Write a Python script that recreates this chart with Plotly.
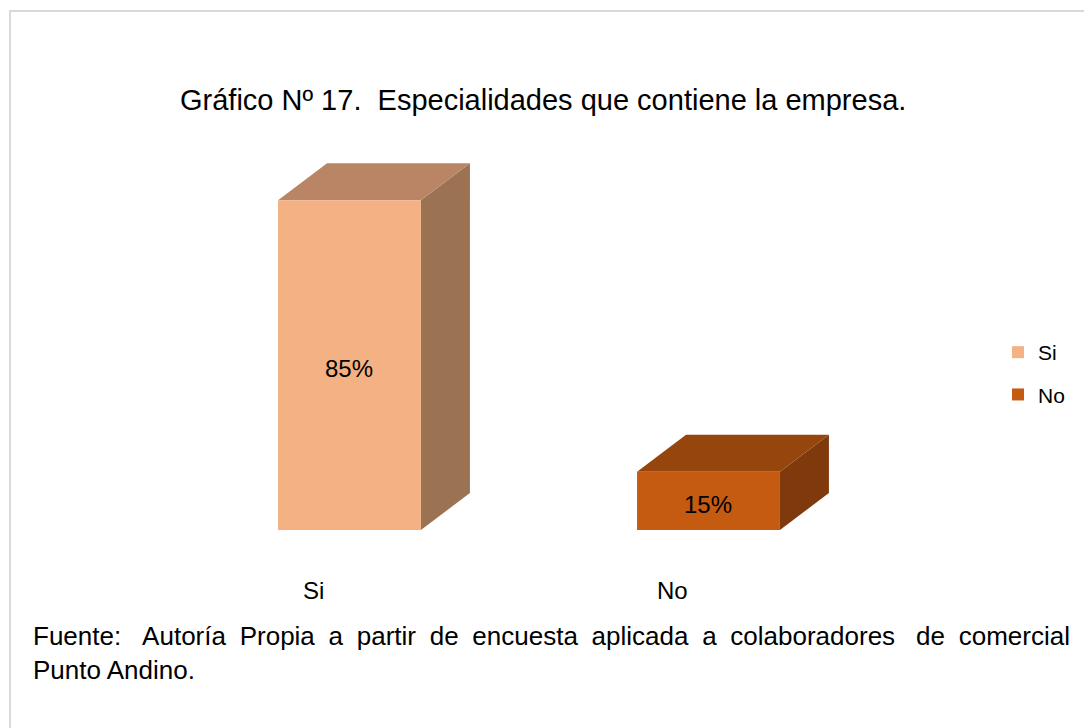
import re
import plotly.graph_objects as go

# ---- data ----
categories = ["Si", "No"]
values = [85, 15]
front_colors = ["#F4B183", "#C55A11"]
top_colors = ["#BA8564", "#96450D"]
side_colors = ["#9B7252", "#7F390C"]
title_text = "Gráfico Nº 17.  Especialidades que contiene la empresa."
footer_lines = [
    "Fuente:  Autoría Propia a partir de encuesta aplicada a colaboradores  de comercial",
    "Punto Andino.",
]

# ---- geometry (data units) ----
BAR_W = 0.398
DX = 0.1365
DY = 9.54
X_RANGE = [-0.9735, 2.046]
Y_RANGE = [-51.03, 136.6]

FONT = "Liberation Sans, Arial, sans-serif"

fig = go.Figure()

for i, (cat, v) in enumerate(zip(categories, values)):
    xl, xr = i - BAR_W / 2, i + BAR_W / 2
    fig.add_trace(go.Scatter(
        x=[xr, xr + DX, xr + DX, xr, xr], y=[0, DY, v + DY, v, 0],
        fill="toself", fillcolor=side_colors[i], mode="lines",
        line=dict(width=0, color=side_colors[i]), showlegend=False, hoverinfo="skip"))
    fig.add_trace(go.Scatter(
        x=[xl, xr, xr + DX, xl + DX, xl], y=[v, v, v + DY, v + DY, v],
        fill="toself", fillcolor=top_colors[i], mode="lines",
        line=dict(width=0, color=top_colors[i]), showlegend=False, hoverinfo="skip"))
    fig.add_trace(go.Scatter(
        x=[xl, xr, xr, xl, xl], y=[0, 0, v, v, 0],
        fill="toself", fillcolor=front_colors[i], mode="lines",
        line=dict(width=0, color=front_colors[i]), showlegend=False, hoverinfo="skip"))
    fig.add_annotation(x=i, y=v / 2 - 0.8, text=f"{v}%", showarrow=False,
                       font=dict(family=FONT, size=24, color="#000000"),
                       xanchor="center", yanchor="middle")
    fig.add_annotation(x=i - 0.1, y=-15.7, text=cat, showarrow=False,
                       font=dict(family=FONT, size=24, color="#000000"),
                       xanchor="center", yanchor="middle")

for i, cat in enumerate(categories):
    fig.add_trace(go.Scatter(
        x=[None], y=[None], mode="markers", name=cat, legendgroup=cat,
        marker=dict(symbol="square", size=12, color=front_colors[i])))

fig.add_annotation(xref="paper", yref="paper", x=543 / 1084, y=1 - 100 / 728,
                   text=title_text, showarrow=False, xanchor="center", yanchor="middle",
                   font=dict(family=FONT, size=29, color="#000000"))

# emulate the justified first line by widening each word gap slightly
line1 = re.sub(r" +", lambda m: m.group(0) + "\u2005", footer_lines[0])
footer_text = line1 + "<br>" + footer_lines[1]
fig.add_annotation(xref="paper", yref="paper", x=31 / 1084, y=1 - 619 / 728,
                   text=footer_text, showarrow=False,
                   xanchor="left", yanchor="top", align="left",
                   font=dict(family=FONT, size=26, color="#000000"))

fig.add_shape(type="rect", xref="paper", yref="paper",
              x0=10 / 1084, x1=1095 / 1084, y0=-10 / 728, y1=1 - 11 / 728,
              line=dict(color="#D9D9D9", width=2), fillcolor="rgba(0,0,0,0)", layer="below")

fig.update_layout(
    width=1084, height=728,
    margin=dict(l=0, r=0, t=0, b=0),
    paper_bgcolor="#FFFFFF", plot_bgcolor="#FFFFFF",
    xaxis=dict(range=X_RANGE, visible=False, fixedrange=True),
    yaxis=dict(range=Y_RANGE, visible=False, fixedrange=True),
    showlegend=True,
    legend=dict(x=998 / 1084, y=1 - 332 / 728, xanchor="left", yanchor="top",
                font=dict(family=FONT, size=21, color="#000000"),
                traceorder="grouped", tracegroupgap=12, bgcolor="rgba(0,0,0,0)"),
)

fig.write_html("out.html", config={"displayModeBar": False},
               post_script="document.body.style.margin='0';")
